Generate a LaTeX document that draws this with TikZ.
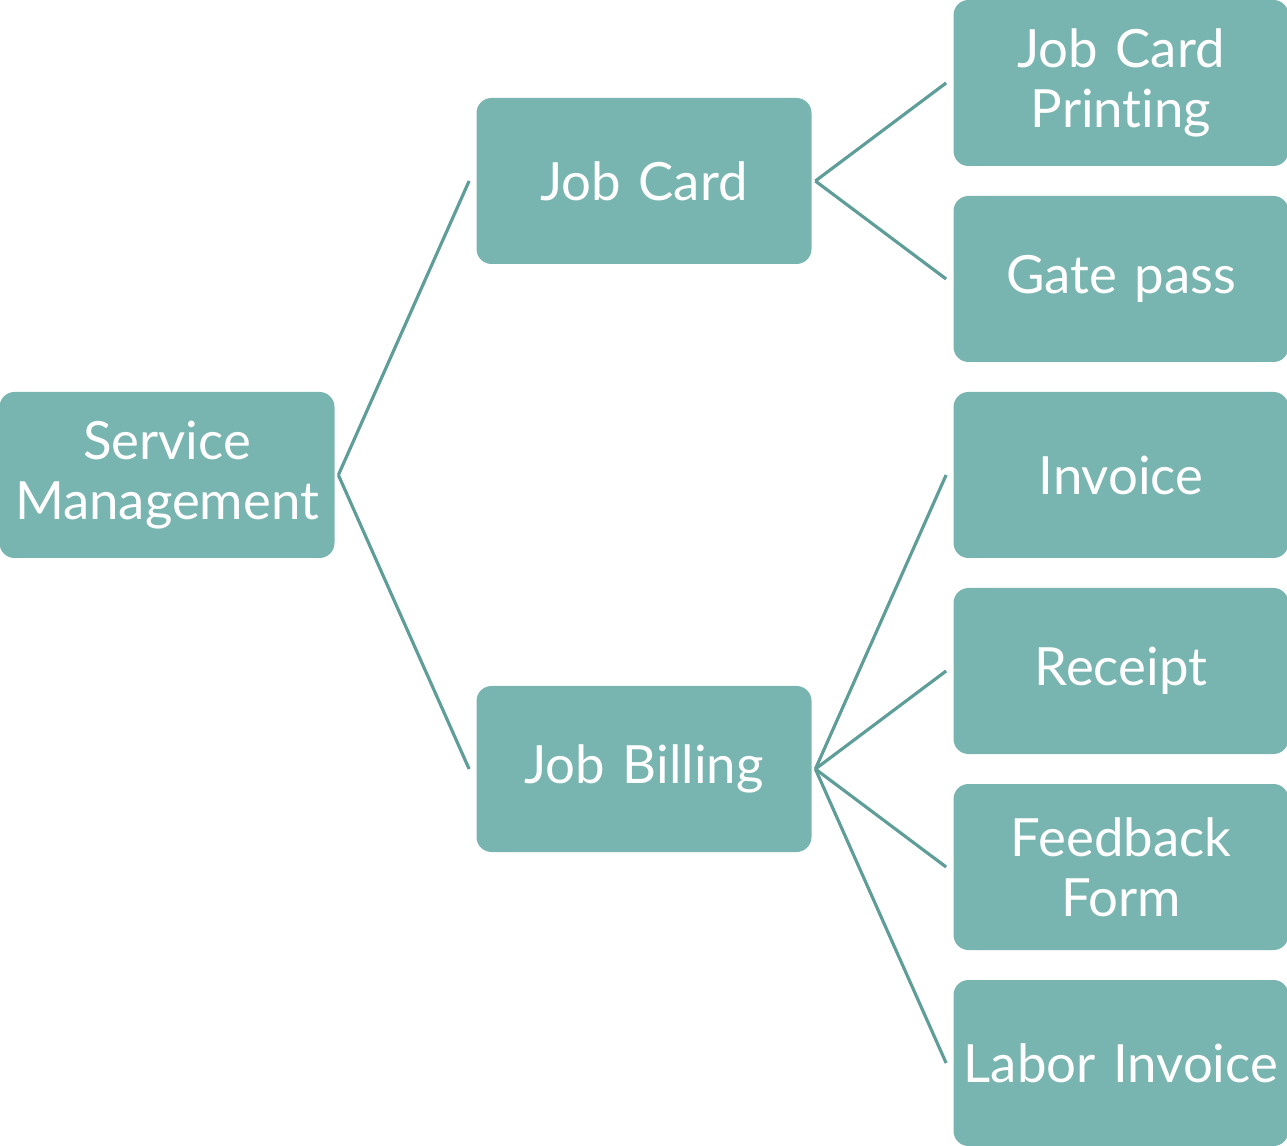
\documentclass[tikz,border=0pt]{standalone}
\usepackage{fontspec}
\setmainfont[Ligatures=NoCommon]{Lato}
\definecolor{boxfill}{HTML}{79B5B0}
\definecolor{linkcol}{HTML}{5F9E98}
\tikzset{
  item/.style={rectangle, rounded corners=0.3cm, fill=boxfill, text=white,
    minimum width=6.7cm, minimum height=3.32cm, text width=6.6cm,
    inner sep=0pt, align=center, font=\fontsize{30}{34}\selectfont}
}
\begin{document}
\begin{tikzpicture}[
            grow'=right,
            level distance=9.54cm,
            level 1/.style={sibling distance=11.76cm},
            level 2/.style={sibling distance=3.92cm},
            edge from parent/.style={draw=linkcol, line width=1.8pt},
            edge from parent path={([xshift=2pt]\tikzparentnode.east) -- ([xshift=-4pt]\tikzchildnode.west)}
        ]
        \useasboundingbox (-3.34,9.5) rectangle (22.4,-13.42);
        \node[item] (service) {Service\\Management}
        child {
                node[item] (jobcard) {Job Card}
                child {node[item] (printing) {Job Card\\Printing}}
                child {node[item] (gatepass) {Gate pass}}
            }
        child {
                node[item] (billing) {Job Billing}
                child {node[item] (invoice) {Invoice}}
                child {node[item] (receipt) {Receipt}}
                child {node[item] (feedback) {Feedback\\Form}}
                child {node[item] (labor) {Labor Invoice}}
            };
    \end{tikzpicture}
\end{document}
